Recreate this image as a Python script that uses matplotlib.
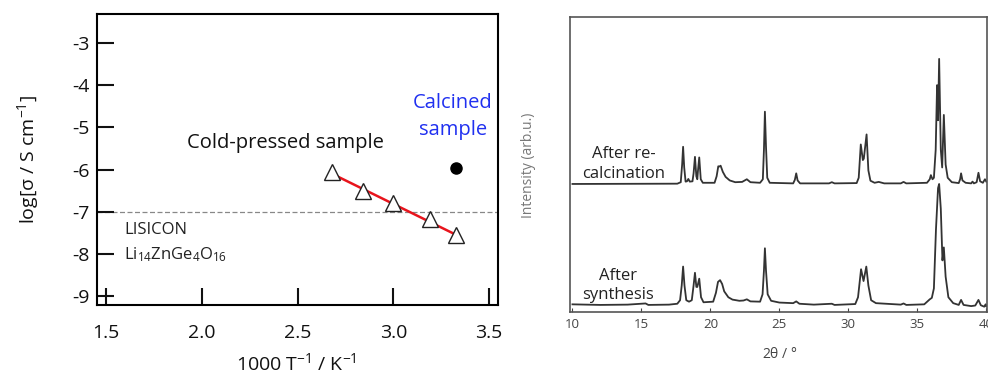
"""
Conductivity (Arrhenius) plot and XRD patterns, side by side.
"""

import matplotlib
matplotlib.use("Agg")
import matplotlib.pyplot as plt

plt.rcParams['font.family'] = ['Open Sans', 'DejaVu Sans']
plt.rcParams['mathtext.fontset'] = 'custom'
plt.rcParams['mathtext.rm'] = 'Open Sans'
plt.rcParams['mathtext.it'] = 'Open Sans:italic'
plt.rcParams['mathtext.default'] = 'regular'
plt.rcParams['axes.unicode_minus'] = False

# --- left panel data: log conductivity vs 1000/T
cold_x = [2.68, 2.84, 3.00, 3.19, 3.33]
cold_y = [-6.05, -6.50, -6.80, -7.17, -7.55]
fit_x = [2.69, 3.33]
fit_y = [-6.12, -7.55]
calc_x = [3.33]
calc_y = [-5.97]
lisicon_level = -7.0
x_ticks = [1.5, 2.0, 2.5, 3.0, 3.5]
x_labels = ["1.5", "2.0", "2.5", "3.0", "3.5"]
y_ticks = [-3, -4, -5, -6, -7, -8, -9]

# --- right panel data: XRD traces (2theta, intensity arb.u.), traced by eye
upper = [
    (10.0, 43.4), (17.6, 43.5), (17.85, 44.0), (17.95, 50), (18.02, 56.0),
    (18.1, 49), (18.2, 44.2), (18.3, 44.3), (18.4, 45.1), (18.5, 44.2),
    (18.7, 44.3), (18.78, 47), (18.88, 52.6), (18.98, 46), (19.05, 45),
    (19.1, 48), (19.19, 52.4), (19.3, 45), (19.45, 43.8), (20.3, 43.8),
    (20.45, 46), (20.57, 49.4), (20.65, 49.3), (20.74, 49.6), (20.9, 47.5),
    (21.1, 45.8), (21.4, 44.6), (21.8, 44.0), (22.3, 44.1), (22.64, 45.0),
    (22.9, 44.0), (23.6, 43.8), (23.8, 45), (23.88, 55), (23.95, 67.9),
    (24.03, 56), (24.12, 45.5), (24.3, 43.8), (26.0, 43.6), (26.12, 44.8),
    (26.22, 47.0), (26.32, 44.6), (26.5, 43.6), (28.6, 43.6), (28.8, 44.0),
    (29.0, 43.6), (30.6, 43.7), (30.75, 45.5), (30.9, 56.8), (31.05, 51.5),
    (31.12, 52), (31.32, 60.2), (31.45, 48), (31.6, 44.5), (31.9, 43.8),
    (32.2, 44.1), (32.6, 43.6), (33.8, 43.6), (34.0, 44.1), (34.2, 43.6),
    (35.7, 43.8), (35.9, 45.0), (35.98, 46.4), (36.1, 45.0), (36.2, 45.5),
    (36.33, 55), (36.43, 76.9), (36.5, 65), (36.58, 85.8), (36.7, 55),
    (36.8, 49.0), (36.92, 66.8), (37.05, 50), (37.2, 45.5), (37.5, 44.0),
    (38.0, 43.7), (38.1, 45.0), (38.17, 47.0), (38.27, 44.6), (38.5, 43.8),
    (38.9, 43.6), (39.0, 44.2), (39.1, 43.6), (39.3, 44.0), (39.43, 47.2),
    (39.55, 44.3), (39.75, 43.8), (39.9, 45.0), (40.0, 44.2),
]
lower = [
    (10.0, 2.6), (12.0, 2.4), (14.0, 2.5), (15.3, 2.9), (15.5, 2.4),
    (17.0, 2.5), (17.6, 2.8), (17.8, 4.0), (17.92, 9), (18.02, 15.4),
    (18.12, 9), (18.25, 4.0), (18.45, 3.5), (18.65, 4.0), (18.78, 9),
    (18.88, 13.3), (18.98, 8.5), (19.05, 8.5), (19.19, 11.3), (19.32, 5),
    (19.5, 3.3), (20.2, 3.5), (20.4, 6.5), (20.55, 10.2), (20.7, 10.8),
    (20.85, 9.5), (21.0, 7.0), (21.3, 5.0), (21.6, 4.2), (22.1, 3.8),
    (22.4, 3.9), (22.64, 4.3), (22.9, 3.6), (23.6, 3.5), (23.78, 6),
    (23.88, 14), (23.95, 21.6), (24.03, 14), (24.15, 6.0), (24.4, 3.8),
    (25.0, 3.2), (26.0, 3.0), (26.22, 3.6), (26.45, 2.8), (27.5, 2.5),
    (28.8, 2.8), (29.0, 2.4), (30.5, 2.7), (30.7, 5.0), (30.92, 14.5),
    (31.1, 10.5), (31.3, 15.4), (31.45, 9), (31.65, 4.0), (32.0, 3.0),
    (33.8, 2.5), (34.0, 2.9), (34.2, 2.4), (35.5, 2.6), (35.9, 4.3),
    (36.05, 4.8), (36.2, 8), (36.35, 28), (36.5, 42), (36.58, 43.4),
    (36.7, 35), (36.82, 17.5), (36.92, 21.9), (37.05, 12), (37.25, 5),
    (37.6, 3.0), (38.0, 2.4), (38.17, 4.1), (38.35, 2.4), (38.9, 2.0),
    (39.2, 2.2), (39.43, 4.1), (39.6, 2.3), (39.85, 1.8), (39.95, 2.6),
    (40.0, 2.0),
]
xrd_ticks = [10, 15, 20, 25, 30, 35, 40]

fig = plt.figure(figsize=(9.88, 3.76), dpi=100)

# Left panel
ax = fig.add_axes([0.0982, 0.1888, 0.4059, 0.7739])
ax.axhline(lisicon_level, color="#888888", lw=0.9, ls=(0, (4, 2)), zorder=1)
ax.plot(fit_x, fit_y, color="#e8141c", lw=1.8, zorder=2)
ax.plot(cold_x, cold_y, ls="none", marker="^", ms=11, mfc="white",
        mec="#222222", mew=1.0, zorder=3)
ax.plot(calc_x, calc_y, ls="none", marker="o", ms=8, color="black", zorder=3)
ax.set_xlim(1.453, 3.547)
ax.set_ylim(-9.21, -2.31)
ax.set_xticks(x_ticks)
ax.set_xticklabels(x_labels)
ax.set_yticks(y_ticks)
ax.tick_params(direction="in", length=12, width=1.5, labelsize=14,
               colors="#111111")
ax.tick_params(axis="x", pad=14)
ax.tick_params(axis="y", pad=5)
for s in ax.spines.values():
    s.set_linewidth(1.5)

ax.text(2.435, -5.37, "Cold-pressed sample", fontsize=14.5, ha="center",
        va="center", color="#111111")
ax.text(3.312, -4.74, "Calcined\nsample", fontsize=14.5, ha="center",
        va="center", color="#2030f0", linespacing=1.45)
ax.text(1.594, -7.43, "LISICON", fontsize=12, ha="left", va="center",
        color="#222222")
ax.text(1.594, -8.02, r"Li$_{14}$ZnGe$_4$O$_{16}$", fontsize=12, ha="left",
        va="center", color="#222222")
fig.text(0.028, 0.575, r"log[σ / S cm$^{-1}$]", rotation=90, fontsize=14,
         ha="center", va="center", color="#111111")
fig.text(0.300, 0.034, r"1000 T$^{-1}$ / K$^{-1}$", fontsize=14,
         ha="center", va="center", color="#111111")

# Right panel
bx = fig.add_axes([0.5769, 0.1702, 0.4221, 0.7846])
for trace in (upper, lower):
    tx = [p[0] for p in trace]
    ty = [p[1] for p in trace]
    bx.plot(tx, ty, color="#333333", lw=1.3)
bx.set_xlim(9.82, 40.05)
bx.set_ylim(0, 100)
bx.set_xticks(xrd_ticks)
bx.set_yticks([])
bx.tick_params(axis="x", direction="in", length=3, width=0.8,
               labelsize=9.5, colors="#444444", pad=4)
for s in bx.spines.values():
    s.set_color("#555555")
    s.set_linewidth(1.2)

bx.text(13.73, 50.2, "After re-\ncalcination", fontsize=12, ha="center",
        va="center", color="#222222", linespacing=1.3)
bx.text(13.3, 9.0, "After\nsynthesis", fontsize=12, ha="center",
        va="center", color="#222222", linespacing=1.3)
fig.text(529 / 988, 1 - 165 / 376, "Intensity (arb.u.)", rotation=90,
         fontsize=10, ha="center", va="center", color="#777777")
fig.text(780 / 988, 1 - 355 / 376, r"2$\theta$ / °", fontsize=10,
         ha="center", va="center", color="#444444")

fig.savefig("out.png", dpi=100)
